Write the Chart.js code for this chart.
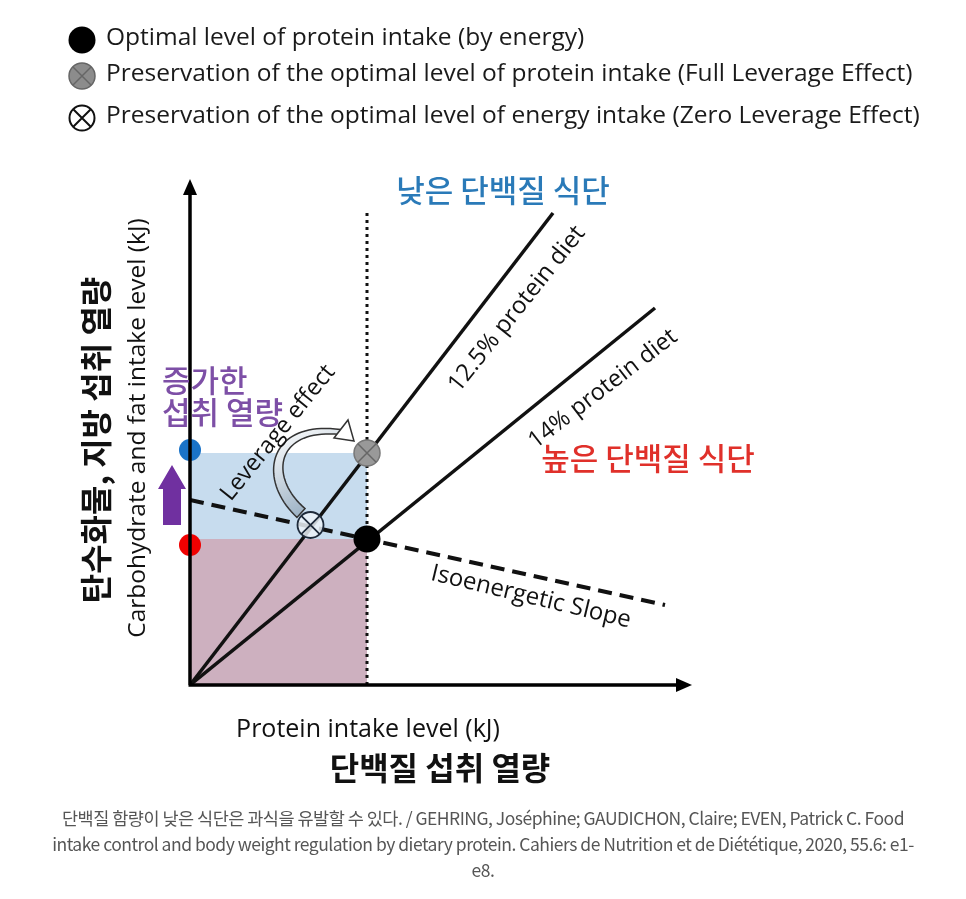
<!DOCTYPE html>
<html>
<head>
<meta charset="utf-8">
<script src="https://cdn.jsdelivr.net/npm/chart.js@4.4.1/dist/chart.umd.min.js"></script>
<style>
  html, body { margin: 0; padding: 0; background: #fff; }
  #wrap { position: relative; width: 966px; height: 899px; overflow: hidden; }
  #chart { position: absolute; left: 0; top: 0; }
  .legend { position: absolute; left: 0; font-family: "Open Sans", sans-serif; font-size: 24.5px; color: #1a1a1a; white-space: nowrap; }
  .legend svg { position: absolute; left: 66px; top: -1px; }
  .legend span { position: absolute; left: 106px; top: -6px; }
  .caption { position: absolute; left: 0; width: 966px; text-align: center; font-family: "Noto Sans CJK KR", sans-serif; font-size: 17.5px; color: #555; line-height: 26px; top: 805px; letter-spacing: -0.5px; }
</style>
</head>
<body>
<div id="wrap">
  <canvas id="chart" width="966" height="899"></canvas>

  <div class="legend" style="top:25px">
    <svg width="32" height="32"><circle cx="16" cy="16" r="13.5" fill="#000"/></svg>
    <span>Optimal level of protein intake (by energy)</span>
  </div>
  <div class="legend" style="top:61px">
    <svg width="32" height="32"><circle cx="16" cy="16" r="13" fill="#8c8c8c" stroke="#666" stroke-width="1.5"/>
      <path d="M7 7 L25 25 M25 7 L7 25" stroke="#666" stroke-width="1.5"/></svg>
    <span>Preservation of the optimal level of protein intake (Full Leverage Effect)</span>
  </div>
  <div class="legend" style="top:103px">
    <svg width="32" height="32"><circle cx="16" cy="16" r="12.5" fill="#fff" stroke="#111" stroke-width="2"/>
      <path d="M7.5 7.5 L24.5 24.5 M24.5 7.5 L7.5 24.5" stroke="#111" stroke-width="2"/></svg>
    <span>Preservation of the optimal level of energy intake (Zero Leverage Effect)</span>
  </div>

  <div class="caption">단백질 함량이 낮은 식단은 과식을 유발할 수 있다. / GEHRING, Joséphine; GAUDICHON, Claire; EVEN, Patrick C. Food<br>intake control and body weight regulation by dietary protein. Cahiers de Nutrition et de Diététique, 2020, 55.6: e1-<br>e8.</div>
</div>

<script>
// Diagram values in axis units (both axes 0..10, no numeric ticks in the original)
const optimalProtein = 3.54;          // vertical dotted line / optimal protein intake
const optimalPoint = [3.54, 2.92];    // black dot
const fullLeveragePoint = [3.54, 4.64]; // gray crossed dot
const zeroLeveragePoint = [2.41, 3.2]; // white crossed dot
const increasedEnergy = 4.7;          // blue dot on y axis
const baselineEnergy = 2.8;           // red dot on y axis
const lowProteinLine = [[0, 0], [7.26, 9.44]];   // 12.5% protein diet
const highProteinLine = [[0, 0], [9.3, 7.54]];   // 14% protein diet
const isoenergeticLine = [[0, 3.7], [9.5, 1.6]];
const dottedTop = 9.5;
const axisMax = 10;

const toXY = arr => arr.map(p => ({ x: p[0], y: p[1] }));

// tapered outline arrow along a cubic bezier
function leverageArrow(ctx, p0, p1, p2, p3, w0, w1) {
  const n = 40, left = [], right = [];
  const bz = (t, a, b, c, d) => {
    const u = 1 - t;
    return u * u * u * a + 3 * u * u * t * b + 3 * u * t * t * c + t * t * t * d;
  };
  for (let i = 0; i <= n; i++) {
    const t = i / n;
    const x = bz(t, p0[0], p1[0], p2[0], p3[0]);
    const y = bz(t, p0[1], p1[1], p2[1], p3[1]);
    const t2 = Math.min(1, t + 0.01), t1 = Math.max(0, t - 0.01);
    const dx = bz(t2, p0[0], p1[0], p2[0], p3[0]) - bz(t1, p0[0], p1[0], p2[0], p3[0]);
    const dy = bz(t2, p0[1], p1[1], p2[1], p3[1]) - bz(t1, p0[1], p1[1], p2[1], p3[1]);
    const len = Math.hypot(dx, dy) || 1;
    const w = (w0 + (w1 - w0) * t) / 2;
    left.push([x - dy / len * w, y + dx / len * w]);
    right.push([x + dy / len * w, y - dx / len * w]);
  }
  const grad = ctx.createLinearGradient(p0[0], p0[1], p1[0], p1[1] - 40);
  grad.addColorStop(0, '#9fb4c6');
  grad.addColorStop(1, '#ffffff');
  ctx.beginPath();
  ctx.moveTo(left[0][0], left[0][1]);
  left.forEach(p => ctx.lineTo(p[0], p[1]));
  for (let i = right.length - 1; i >= 0; i--) ctx.lineTo(right[i][0], right[i][1]);
  ctx.closePath();
  ctx.fillStyle = grad;
  ctx.fill();
  ctx.strokeStyle = '#333';
  ctx.lineWidth = 1.5;
  ctx.stroke();
}

// extra drawing: axes arrows, texts, curved arrow, purple arrow
const annotations = {
  id: 'annotations',
  afterDatasetsDraw(chart) {
    const ctx = chart.ctx;
    const xs = chart.scales.x, ys = chart.scales.y;
    const px = v => xs.getPixelForValue(v);
    const py = v => ys.getPixelForValue(v);
    const x0 = px(0), y0 = py(0);

    ctx.save();
    // axes
    ctx.strokeStyle = '#000';
    ctx.fillStyle = '#000';
    ctx.lineWidth = 3.5;
    ctx.beginPath();
    ctx.moveTo(x0, y0);
    ctx.lineTo(x0, py(axisMax) + 6);
    ctx.moveTo(x0 - 1.5, y0);
    ctx.lineTo(px(axisMax) - 6, y0);
    ctx.stroke();
    ctx.beginPath();
    ctx.moveTo(x0, py(axisMax) - 6);
    ctx.lineTo(x0 - 7, py(axisMax) + 10);
    ctx.lineTo(x0 + 7, py(axisMax) + 10);
    ctx.closePath();
    ctx.fill();
    ctx.beginPath();
    ctx.moveTo(px(axisMax) + 2, y0);
    ctx.lineTo(px(axisMax) - 14, y0 - 7);
    ctx.lineTo(px(axisMax) - 14, y0 + 7);
    ctx.closePath();
    ctx.fill();

    // purple arrow (increase)
    ctx.fillStyle = '#7030a0';
    ctx.beginPath();
    ctx.moveTo(172, 465);
    ctx.lineTo(186, 489);
    ctx.lineTo(181, 489);
    ctx.lineTo(181, 525);
    ctx.lineTo(163, 525);
    ctx.lineTo(163, 489);
    ctx.lineTo(158, 489);
    ctx.closePath();
    ctx.fill();

    // curved leverage arrow
    leverageArrow(ctx, [301, 513], [262, 478], [272, 424], [340, 432], 12, 5);
    ctx.beginPath();
    ctx.moveTo(354, 441);
    ctx.lineTo(334, 438);
    ctx.lineTo(348, 420);
    ctx.closePath();
    ctx.fillStyle = '#fff';
    ctx.fill();
    ctx.strokeStyle = '#333';
    ctx.lineWidth = 1.5;
    ctx.stroke();

    // rotated labels
    const rotText = (txt, x, y, deg, font, color) => {
      ctx.save();
      ctx.translate(x, y);
      ctx.rotate(deg * Math.PI / 180);
      ctx.font = font;
      ctx.fillStyle = color;
      ctx.textAlign = 'center';
      ctx.textBaseline = 'middle';
      ctx.fillText(txt, 0, 0);
      ctx.restore();
    };
    const latin = '"Open Sans", sans-serif';
    const kr = '"Noto Sans CJK KR", sans-serif';
    rotText('12.5% protein diet', 517, 309, -51.5, '24px ' + latin, '#111');
    rotText('14% protein diet', 603, 389, -37.5, '23.5px ' + latin, '#111');
    rotText('Leverage effect', 278, 433, -51, '23.5px ' + latin, '#111');
    rotText('Isoenergetic Slope', 531, 597, 13.5, '24px ' + latin, '#111');

    rotText('낮은 단백질 식단', 503, 190, 0, '500 31px ' + kr, '#2a7ab8');
    rotText('높은 단백질 식단', 648, 458, 0, '500 31px ' + kr, '#e0302a');
    ctx.save();
    ctx.font = '500 31px ' + kr;
    ctx.fillStyle = '#7d4fa6';
    ctx.textBaseline = 'middle';
    ctx.fillText('증가한', 162, 380);
    ctx.fillText('섭취 열량', 162, 412);
    ctx.restore();

    rotText('Carbohydrate and fat intake level (kJ)', 138, 428, -90, '24.5px ' + latin, '#111');
    rotText('탄수화물, 지방 섭취 열량', 96, 440, -90, 'bold 32px ' + kr, '#111');
    rotText('Protein intake level (kJ)', 368, 730, 0, '25px ' + latin, '#111');
    rotText('단백질 섭취 열량', 440, 768, 0, 'bold 32px ' + kr, '#111');
    ctx.restore();
  }
};

new Chart(document.getElementById('chart'), {
  type: 'scatter',
  data: {
    datasets: [
      // dots on y axis
      { data: toXY([[0, increasedEnergy]]), pointRadius: 11, backgroundColor: '#1a73c8', borderWidth: 0, clip: false, order: 0 },
      { data: toXY([[0, baselineEnergy]]), pointRadius: 11, backgroundColor: '#f00000', borderWidth: 0, clip: false, order: 0 },
      // crossed markers
      { data: toXY([fullLeveragePoint]), pointStyle: 'crossRot', pointRadius: 13, borderColor: '#666', borderWidth: 1.5, order: 0 },
      { data: toXY([fullLeveragePoint]), pointRadius: 13, backgroundColor: '#999', borderColor: '#777', borderWidth: 1.5, order: 1 },
      { data: toXY([zeroLeveragePoint]), pointStyle: 'crossRot', pointRadius: 13, borderColor: '#1e2a3a', borderWidth: 1.8, order: 0 },
      { data: toXY([zeroLeveragePoint]), pointRadius: 13, backgroundColor: 'rgba(235,242,248,0.85)', borderColor: '#1e2a3a', borderWidth: 1.8, order: 1 },
      { data: toXY([optimalPoint]), pointRadius: 13.5, backgroundColor: '#000', borderWidth: 0, order: 0 },
      // lines
      { data: toXY(isoenergeticLine), showLine: true, borderColor: '#111', borderWidth: 4, borderDash: [14, 8], pointRadius: 0, order: 2 },
      { data: toXY(lowProteinLine), showLine: true, borderColor: '#111', borderWidth: 3.5, pointRadius: 0, order: 2 },
      { data: toXY(highProteinLine), showLine: true, borderColor: '#111', borderWidth: 3.5, pointRadius: 0, order: 2 },
      { data: toXY([[optimalProtein, 0], [optimalProtein, dottedTop]]), showLine: true, borderColor: '#111', borderWidth: 3, borderDash: [3, 4], pointRadius: 0, order: 2 },
      // shaded rectangles
      { data: toXY([[0, fullLeveragePoint[1]], [optimalProtein, fullLeveragePoint[1]]]), showLine: true, borderWidth: 0, pointRadius: 0,
        fill: { value: optimalPoint[1] }, backgroundColor: '#c7dcee', order: 5 },
      { data: toXY([[0, optimalPoint[1]], [optimalProtein, optimalPoint[1]]]), showLine: true, borderWidth: 0, pointRadius: 0,
        fill: 'origin', backgroundColor: '#cdb0bf', order: 5 }
    ]
  },
  options: {
    responsive: false,
    animation: false,
    devicePixelRatio: 1,
    layout: { padding: { left: 190, right: 276, top: 185, bottom: 214 } },
    scales: {
      x: { type: 'linear', min: 0, max: axisMax, display: false },
      y: { type: 'linear', min: 0, max: axisMax, display: false }
    },
    plugins: { legend: { display: false }, tooltip: { enabled: false } }
  },
  plugins: [annotations]
});
</script>
</body>
</html>
